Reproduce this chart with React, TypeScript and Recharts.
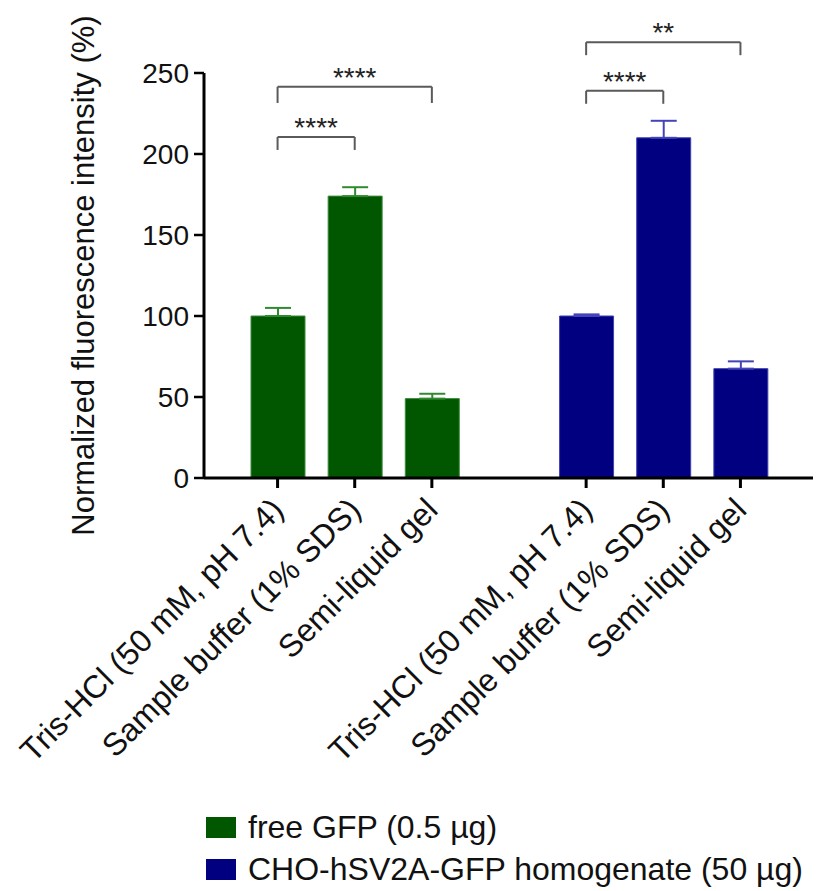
import React from "react";
import {
  BarChart,
  Bar,
  XAxis,
  YAxis,
  ErrorBar,
  ReferenceLine,
  Legend,
} from "recharts";

// category ids (the "gap" slot separates the two sample groups)
const CATEGORIES = [
  "gfp-tris",
  "gfp-sds",
  "gfp-gel",
  "gap",
  "cho-tris",
  "cho-sds",
  "cho-gel",
];

const TICK_LABELS = [
  "Tris-HCl (50 mM, pH 7.4)",
  "Sample buffer (1% SDS)",
  "Semi-liquid gel",
  "",
  "Tris-HCl (50 mM, pH 7.4)",
  "Sample buffer (1% SDS)",
  "Semi-liquid gel",
];

const FREE_GFP = [100, 174, 49, null, null, null, null];
const FREE_GFP_SEM = [5, 5.5, 3, null, null, null, null];
const CHO_HOMOGENATE = [null, null, null, null, 100, 210, 67.5];
const CHO_HOMOGENATE_SEM = [null, null, null, null, 1, 10.5, 4.5];

const SERIES_NAMES = ["free GFP (0.5 µg)", "CHO-hSV2A-GFP homogenate (50 µg)"];

const Y_TICKS = [0, 50, 100, 150, 200, 250];

// significance brackets: from / to category, bracket top and leg bottom (y units)
const COMPARISONS = [
  { from: "gfp-tris", to: "gfp-sds", top: 210.5, bottom: 202.5, stars: "****" },
  { from: "gfp-tris", to: "gfp-gel", top: 241.5, bottom: 231.5, stars: "****" },
  { from: "cho-tris", to: "cho-sds", top: 239, bottom: 231, stars: "****" },
  { from: "cho-tris", to: "cho-gel", top: 269, bottom: 261, stars: "**" },
];

const GREEN = "#005700";
const BLUE = "#000080";
const FONT = "'Liberation Sans', Arial, sans-serif";

const data = CATEGORIES.map((id, i) => ({
  id,
  free: FREE_GFP[i],
  freeErr: FREE_GFP_SEM[i] == null ? null : [0, FREE_GFP_SEM[i]],
  cho: CHO_HOMOGENATE[i],
  choErr: CHO_HOMOGENATE_SEM[i] == null ? null : [0, CHO_HOMOGENATE_SEM[i]],
}));

function XTick(props: any) {
  const { x, y, payload } = props;
  const label = TICK_LABELS[CATEGORIES.indexOf(payload.value)];
  return (
    <g transform={`translate(${x},${y + 14})`}>
      <text
        transform="rotate(-45)"
        textAnchor="end"
        dominantBaseline="central"
        fontSize={32}
        fill="#111"
        fontFamily={FONT}
      >
        {label}
      </text>
    </g>
  );
}

function YTitle(props: any) {
  const { viewBox } = props;
  const cx = viewBox.x + 83;
  const cy = viewBox.y + viewBox.height / 2;
  return (
    <text
      x={cx}
      y={cy}
      transform={`rotate(-90 ${cx} ${cy})`}
      textAnchor="middle"
      dominantBaseline="central"
      fontSize={31}
      fill="#111"
      fontFamily={FONT}
    >
      Normalized fluorescence intensity (%)
    </text>
  );
}

function LegendContent(props: any) {
  // keep the series order (stacked bars come back reversed)
  const items = [...(props.payload ?? [])].sort(
    (a: any, b: any) => SERIES_NAMES.indexOf(a.value) - SERIES_NAMES.indexOf(b.value)
  );
  return (
    <div style={{ fontFamily: FONT, fontSize: 32, color: "#111" }}>
      {items.map((item: any) => (
        <div
          key={item.value}
          style={{ display: "flex", alignItems: "center", height: 42 }}
        >
          <span
            style={{
              display: "inline-block",
              width: 30,
              height: 21,
              background: item.color,
              marginRight: 12,
            }}
          />
          <span>{item.value}</span>
        </div>
      ))}
    </div>
  );
}

export default function App() {
  const bracketStyle = { stroke: "#5a5a5a", strokeWidth: 2 };
  return (
    <div style={{ position: "absolute", left: 0, top: 0, background: "#fff" }}>
      <BarChart
        width={816}
        height={891}
        data={data}
        margin={{ top: 73, right: 3, bottom: 0, left: 0 }}
        style={{ fontFamily: FONT }}
      >
        <XAxis
          dataKey="id"
          ticks={CATEGORIES.filter((c) => c !== "gap")}
          interval={0}
          height={413}
          padding={{ left: 35, right: 34 }}
          tickSize={10}
          tickLine={{ stroke: "#000", strokeWidth: 3 }}
          axisLine={{ stroke: "#000", strokeWidth: 3 }}
          tick={<XTick />}
        />
        <YAxis
          width={204}
          domain={[0, 250]}
          ticks={Y_TICKS}
          tickSize={10}
          tickMargin={5}
          tickLine={{ stroke: "#000", strokeWidth: 2.5 }}
          axisLine={{ stroke: "#000", strokeWidth: 3 }}
          tick={{ fontSize: 28, fill: "#111" }}
          label={{ content: <YTitle /> }}
        />
        <Legend
          layout="vertical"
          verticalAlign="middle"
          align="center"
          wrapperStyle={{ left: 206, top: 806, width: "auto", height: "auto" }}
          content={<LegendContent />}
        />
        <Bar
          dataKey="free"
          name={SERIES_NAMES[0]}
          stackId="s"
          fill={GREEN}
          stroke="#3c8c3c"
          strokeWidth={1}
          barSize={54}
          isAnimationActive={false}
        >
          <ErrorBar
            dataKey="freeErr"
            width={13}
            stroke="#2f8a2f"
            strokeWidth={2}
            isAnimationActive={false}
          />
        </Bar>
        <Bar
          dataKey="cho"
          name={SERIES_NAMES[1]}
          stackId="s"
          fill={BLUE}
          stroke="#4040b0"
          strokeWidth={1}
          barSize={54}
          isAnimationActive={false}
        >
          <ErrorBar
            dataKey="choErr"
            width={13}
            stroke="#4444b8"
            strokeWidth={2}
            isAnimationActive={false}
          />
        </Bar>
        {COMPARISONS.map((c) => [
          <ReferenceLine
            key={`${c.from}-${c.to}-l`}
            segment={[
              { x: c.from, y: c.bottom },
              { x: c.from, y: c.top },
            ]}
            ifOverflow="visible"
            {...bracketStyle}
          />,
          <ReferenceLine
            key={`${c.from}-${c.to}-h`}
            segment={[
              { x: c.from, y: c.top },
              { x: c.to, y: c.top },
            ]}
            ifOverflow="visible"
            {...bracketStyle}
            label={{
              value: c.stars,
              position: "top",
              offset: 0,
              fontSize: 28,
              fill: "#222",
              fontFamily: FONT,
            }}
          />,
          <ReferenceLine
            key={`${c.from}-${c.to}-r`}
            segment={[
              { x: c.to, y: c.top },
              { x: c.to, y: c.bottom },
            ]}
            ifOverflow="visible"
            {...bracketStyle}
          />,
        ])}
      </BarChart>
    </div>
  );
}
